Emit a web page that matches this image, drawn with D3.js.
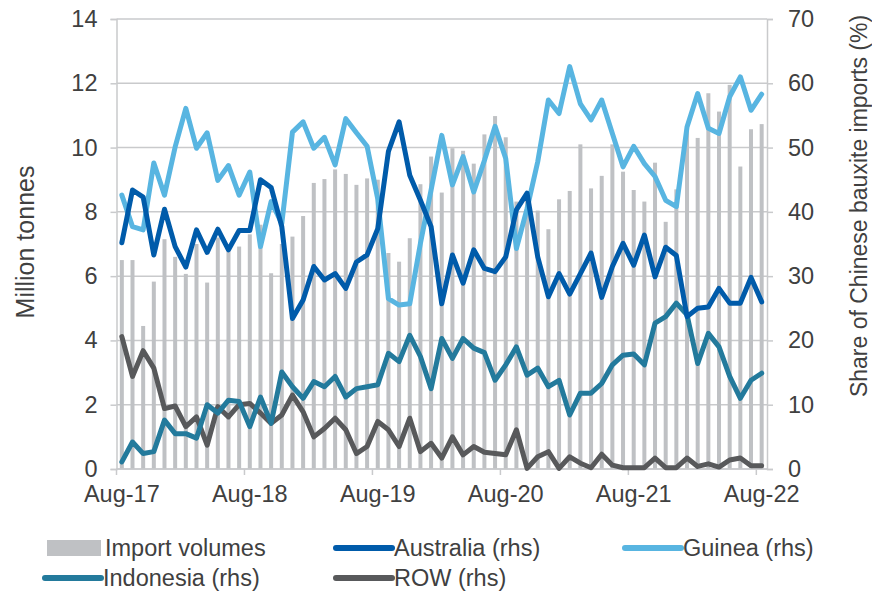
<!DOCTYPE html>
<html>
<head>
<meta charset="utf-8">
<script src="https://cdn.jsdelivr.net/npm/d3@7"></script>
<style>
  html, body { margin: 0; padding: 0; background: #fff; }
  svg { display: block; font-family: "Liberation Sans", Arial, sans-serif; }
</style>
</head>
<body>
<svg id="chart" width="872" height="591"></svg>
<script>
// Monthly China bauxite imports, Aug-17 to Aug-22
const months = d3.timeMonth.range(new Date(2017, 7, 1), new Date(2022, 8, 1)).map(d3.timeFormat("%b-%y"));
const tickLabels = ["Aug-17", "Aug-18", "Aug-19", "Aug-20", "Aug-21", "Aug-22"];
const leftTicks = [0, 2, 4, 6, 8, 10, 12, 14];
const rightTicks = [0, 10, 20, 30, 40, 50, 60, 70];

// Import volumes, million tonnes (left axis)
const importVolumes = [
  6.5, 6.5, 4.45, 5.83, 7.15, 6.6, 6.07, 7.0, 5.8, 7.2, 6.8, 6.92, 7.3,
  7.6, 6.09, 7.0, 7.23, 7.87, 8.9, 9.02, 9.32, 9.18, 8.84, 9.04, 9.0,
  6.72, 6.45, 7.18, 8.86, 9.72, 8.6, 9.98, 9.9, 9.5, 10.41, 10.98, 10.32,
  8.32, 8.6, 8.04, 7.46, 8.39, 8.65, 10.1, 8.73, 9.12, 10.1, 9.25, 8.68,
  8.32, 9.53, 7.69, 8.7, 10.67, 10.3, 11.69, 11.12, 11.95, 9.41, 10.57, 10.73
];

// Shares of imports by origin, % (right axis)
const australia = [
  35.2, 43.4, 42.3, 33.3, 40.4, 34.6, 31.4, 37.2, 33.7, 37.3, 34.1, 37.1, 37.1,
  45.0, 43.8, 37.7, 23.4, 26.3, 31.5, 29.4, 30.4, 28.1, 32.2, 33.3, 37.4,
  49.4, 54.0, 45.7, 41.8, 37.7, 25.7, 33.3, 28.9, 34.1, 31.2, 30.7, 33.0,
  40.3, 42.9, 33.0, 26.8, 30.4, 27.2, 30.4, 33.6, 26.7, 31.5, 35.1, 31.7,
  36.4, 29.9, 34.5, 33.2, 23.7, 25.0, 25.2, 28.1, 25.8, 25.8, 29.8, 26.0
];
const guinea = [
  42.6, 37.7, 37.2, 47.6, 42.6, 50.1, 56.1, 49.9, 52.3, 44.9, 47.2, 42.6, 46.2,
  34.6, 41.6, 38.2, 52.4, 54.0, 49.9, 51.6, 47.3, 54.5, 52.3, 50.2, 42.0,
  26.5, 25.5, 25.7, 35.1, 43.4, 51.9, 44.2, 48.6, 43.1, 48.0, 53.3, 48.3,
  34.3, 40.5, 47.8, 57.4, 55.3, 62.6, 56.8, 54.3, 57.4, 52.2, 47.0, 50.2,
  47.5, 45.5, 41.8, 40.8, 53.2, 58.4, 53.0, 52.2, 57.9, 61.0, 55.8, 58.3
];
const indonesia = [
  1.1, 4.2, 2.4, 2.7, 7.6, 5.5, 5.5, 4.8, 10.0, 8.7, 10.7, 10.5, 6.6,
  11.2, 7.1, 15.1, 12.8, 11.0, 13.6, 12.8, 14.4, 11.2, 12.5, 12.8, 13.1,
  18.0, 16.7, 20.8, 17.5, 12.5, 20.3, 17.2, 20.3, 18.8, 18.1, 13.8, 16.2,
  19.0, 14.6, 15.7, 12.8, 13.8, 8.4, 11.8, 11.8, 13.3, 16.2, 17.7, 17.9,
  16.2, 22.7, 23.7, 25.8, 24.0, 16.4, 21.1, 19.0, 14.4, 11.0, 13.8, 14.9
];
const row = [
  20.6, 14.4, 18.4, 15.7, 9.4, 9.8, 6.6, 8.1, 3.7, 9.7, 8.1, 10.0, 10.2,
  8.7, 7.1, 8.4, 11.5, 8.9, 5.0, 6.3, 7.9, 6.1, 2.4, 3.5, 7.4,
  6.1, 3.5, 7.9, 2.7, 4.0, 1.7, 5.0, 2.2, 3.5, 2.6, 2.4, 2.2,
  6.1, 0.1, 1.9, 2.7, 0.1, 1.9, 0.9, 0.2, 2.3, 0.6, 0.2, 0.2,
  0.2, 1.7, 0.2, 0.2, 1.7, 0.4, 0.8, 0.3, 1.4, 1.7, 0.5, 0.5
];

const seriesLines = [
  { name: "Australia (rhs)", values: australia, color: "#005BAA" },
  { name: "Guinea (rhs)", values: guinea, color: "#58B5E1" },
  { name: "Indonesia (rhs)", values: indonesia, color: "#237A9C" },
  { name: "ROW (rhs)", values: row, color: "#58595B" }
];
// Draw order: ROW, Indonesia first, then Guinea, Australia on top
const drawOrder = ["ROW (rhs)", "Indonesia (rhs)", "Guinea (rhs)", "Australia (rhs)"];

const svg = d3.select("#chart");
const textColor = "#404040";
const gridColor = "#C9CACC";
const tickFont = 23.5;
const legendFont = 23.5;

const plot = { left: 116.5, right: 767, top: 19, bottom: 469 };

const x = d3.scaleBand().domain(months).range([plot.left, plot.right]).paddingInner(0).paddingOuter(0);
const yL = d3.scaleLinear().domain([0, 14]).range([plot.bottom, plot.top]);
const yR = d3.scaleLinear().domain([0, 70]).range([plot.bottom, plot.top]);
const cx = m => x(m) + x.bandwidth() / 2;

// Horizontal gridlines
svg.append("g")
  .selectAll("line")
  .data(leftTicks)
  .join("line")
  .attr("x1", plot.left).attr("x2", plot.right)
  .attr("y1", d => yL(d)).attr("y2", d => yL(d))
  .attr("stroke", gridColor).attr("stroke-width", 1.5);

// Import volume bars
const barW = 4;
svg.append("g")
  .selectAll("rect")
  .data(importVolumes)
  .join("rect")
  .attr("x", (d, i) => cx(months[i]) - barW / 2)
  .attr("y", d => yL(d))
  .attr("width", barW)
  .attr("height", d => yL(0) - yL(d))
  .attr("fill", "#BFC1C4");

// Left axis
const leftAxis = svg.append("g")
  .attr("transform", `translate(${plot.left},0)`)
  .call(d3.axisLeft(yL).tickValues(leftTicks).tickSize(6).tickPadding(13).tickFormat(d3.format("d")));
leftAxis.select(".domain").attr("stroke", gridColor).attr("stroke-width", 1.5);
leftAxis.selectAll(".tick line").attr("stroke", gridColor).attr("stroke-width", 1.5);
leftAxis.selectAll("text").attr("fill", textColor).style("font-size", tickFont + "px")
  .style("font-family", "Liberation Sans, Arial, sans-serif");

// Right axis
const rightAxis = svg.append("g")
  .attr("transform", `translate(${plot.right},0)`)
  .call(d3.axisRight(yR).tickValues(rightTicks).tickSize(6).tickPadding(15).tickFormat(d3.format("d")));
rightAxis.select(".domain").attr("stroke", gridColor).attr("stroke-width", 1.5);
rightAxis.selectAll(".tick line").attr("stroke", gridColor).attr("stroke-width", 1.5);
rightAxis.selectAll("text").attr("fill", textColor).style("font-size", tickFont + "px")
  .style("font-family", "Liberation Sans, Arial, sans-serif");

// Bottom axis: ticks at the start of each August, labels on the August month
const tickMonths = months.filter(m => tickLabels.includes(m));
const bottom = svg.append("g").attr("transform", `translate(0,${plot.bottom})`);
bottom.append("line")
  .attr("x1", plot.left).attr("x2", plot.right)
  .attr("stroke", gridColor).attr("stroke-width", 1.5);
bottom.selectAll("line.tick")
  .data(tickMonths)
  .join("line")
  .attr("class", "tick")
  .attr("x1", d => x(d)).attr("x2", d => x(d))
  .attr("y1", 0).attr("y2", 6)
  .attr("stroke", gridColor).attr("stroke-width", 1.5);
bottom.selectAll("text")
  .data(tickMonths)
  .join("text")
  .attr("x", d => cx(d))
  .attr("y", 33)
  .attr("text-anchor", "middle")
  .attr("fill", textColor)
  .style("font-size", tickFont + "px")
  .text(d => d);

// Share lines
const line = d3.line()
  .x((d, i) => cx(months[i]))
  .y(d => yR(d));
const linesG = svg.append("g");
drawOrder.forEach(name => {
  const s = seriesLines.find(t => t.name === name);
  linesG.append("path")
    .datum(s.values)
    .attr("d", line)
    .attr("fill", "none")
    .attr("stroke", s.color)
    .attr("stroke-width", 5)
    .attr("stroke-linejoin", "round")
    .attr("stroke-linecap", "round");
});

// Axis titles
svg.append("text")
  .attr("transform", "translate(34,242) rotate(-90)")
  .attr("text-anchor", "middle")
  .attr("fill", textColor)
  .style("font-size", "25px")
  .text("Million tonnes");
svg.append("text")
  .attr("transform", "translate(867,206) rotate(-90)")
  .attr("text-anchor", "middle")
  .attr("fill", textColor)
  .style("font-size", "23px")
  .text("Share of Chinese bauxite imports (%)");

// Legend
const legendItems = [
  { label: "Import volumes", type: "bar", color: "#BFC1C4", x: 47, y: 548 },
  { label: "Australia (rhs)", type: "line", color: "#005BAA", x: 336, y: 548 },
  { label: "Guinea (rhs)", type: "line", color: "#58B5E1", x: 625, y: 548 },
  { label: "Indonesia (rhs)", type: "line", color: "#237A9C", x: 45, y: 578 },
  { label: "ROW (rhs)", type: "line", color: "#58595B", x: 336, y: 578 }
];
const lg = svg.append("g");
legendItems.forEach(item => {
  const g = lg.append("g").attr("transform", `translate(${item.x},${item.y})`);
  if (item.type === "bar") {
    g.append("rect").attr("x", 0).attr("y", -8).attr("width", 54).attr("height", 16).attr("fill", item.color);
  } else {
    g.append("line").attr("x1", 0).attr("x2", 56).attr("y1", 0).attr("y2", 0)
      .attr("stroke", item.color).attr("stroke-width", 6).attr("stroke-linecap", "round");
  }
  g.append("text")
    .attr("x", 58)
    .attr("y", 0)
    .attr("dy", "0.35em")
    .attr("fill", textColor)
    .style("font-size", legendFont + "px")
    .text(item.label);
});
</script>
</body>
</html>
